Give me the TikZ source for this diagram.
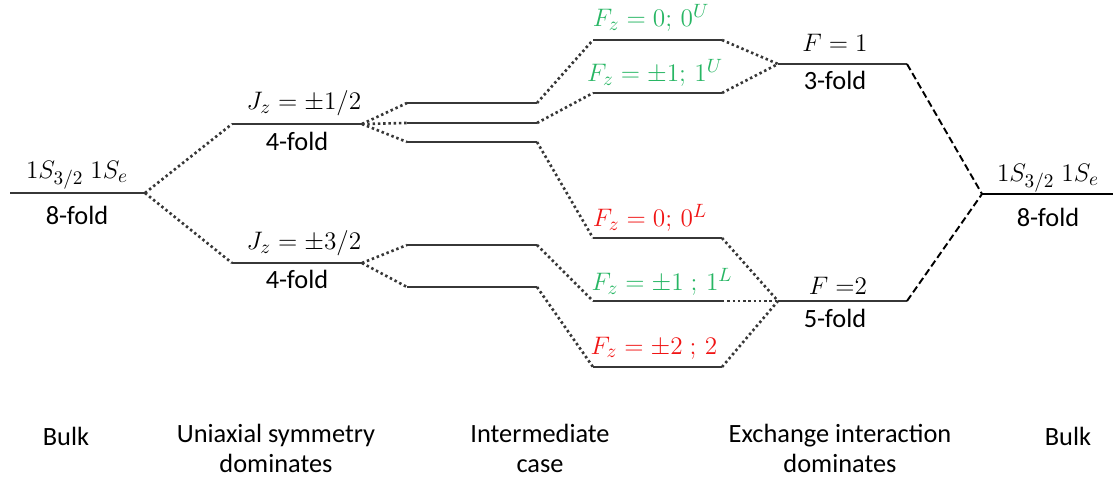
\documentclass[tikz,border=0pt]{standalone}
\usepackage{fontspec}
\setmainfont{Carlito}
\definecolor{lvlgreen}{RGB}{40,182,100}
\definecolor{lvlred}{RGB}{240,20,20}
\definecolor{lvlgray}{RGB}{55,55,55}
\tikzset{
  level/.style={draw=lvlgray, line width=1.6pt},
  link/.style={draw=lvlgray, line width=1.5pt, dash pattern=on 1.4pt off 1.6pt},
  dlink/.style={draw=black, line width=1.1pt, dash pattern=on 4pt off 2pt},
  lbl/.style={font=\fontsize{15}{17}\selectfont, inner sep=0pt},
}
\begin{document}
\begin{tikzpicture}[x=0.02cm, y=-0.02cm]
  \useasboundingbox (0,0) rectangle (1113,482);

  \coordinate (b0) at (10,193);
  \coordinate (b1) at (145,193);
  \coordinate (ja0) at (232,124);
  \coordinate (ja1) at (362,124);
  \coordinate (jb0) at (232,263);
  \coordinate (jb1) at (362,263);
  \coordinate (ia0) at (407,103);
  \coordinate (ia1) at (537,103);
  \coordinate (ib0) at (407,123);
  \coordinate (ib1) at (537,123);
  \coordinate (ic0) at (407,142);
  \coordinate (ic1) at (537,142);
  \coordinate (id0) at (407,245);
  \coordinate (id1) at (537,245);
  \coordinate (ie0) at (407,287);
  \coordinate (ie1) at (537,287);
  \coordinate (u00) at (593,40);
  \coordinate (u01) at (722,40);
  \coordinate (u10) at (593,93);
  \coordinate (u11) at (722,93);
  \coordinate (l00) at (593,238);
  \coordinate (l01) at (722,238);
  \coordinate (l10) at (593,301);
  \coordinate (l11) at (722,301);
  \coordinate (l20) at (593,367);
  \coordinate (l21) at (722,367);
  \coordinate (fa0) at (778,64);
  \coordinate (fa1) at (907,64);
  \coordinate (fb0) at (778,301);
  \coordinate (fb1) at (907,301);
  \coordinate (r0) at (982,194);
  \coordinate (r1) at (1113,194);

  \draw[level] (b0) -- (b1);
  \draw[level] (ja0) -- (ja1);
  \draw[level] (jb0) -- (jb1);
  \draw[level] (ia0) -- (ia1);
  \draw[level] (ib0) -- (ib1);
  \draw[level] (ic0) -- (ic1);
  \draw[level] (id0) -- (id1);
  \draw[level] (ie0) -- (ie1);
  \draw[level] (u00) -- (u01);
  \draw[level] (u10) -- (u11);
  \draw[level] (l00) -- (l01);
  \draw[level] (l10) -- (l11);
  \draw[level] (l20) -- (l21);
  \draw[level] (fa0) -- (fa1);
  \draw[level] (fb0) -- (fb1);
  \draw[level, draw=black] (r0) -- (r1);

  \draw[link] (b1) -- (ja0);
  \draw[link] (b1) -- (jb0);
  \draw[link] (ja1) -- (ia0);
  \draw[link] (ja1) -- (ib0);
  \draw[link] (ja1) -- (ic0);
  \draw[link] (jb1) -- (id0);
  \draw[link] (jb1) -- (ie0);
  \draw[link] (ia1) -- (u00);
  \draw[link] (ib1) -- (u10);
  \draw[link] (ic1) -- (l00);
  \draw[link] (id1) -- (l10);
  \draw[link] (ie1) -- (l20);
  \draw[link] (u01) -- (fa0);
  \draw[link] (u11) -- (fa0);
  \draw[link] (l01) -- (fb0);
  \draw[link] (l11) -- (fb0);
  \draw[link] (l21) -- (fb0);
  \draw[dlink] (fa1) -- (r0);
  \draw[dlink] (fb1) -- (r0);

  \node[lbl] (bt) at (77,175) {$1S_{3/2}\;1S_e$};
  \node[lbl] (bf) at (77,215) {8-fold};
  \node[lbl] (jat) at (304,103) {$J_z = \pm 1/2$};
  \node[lbl] (jaf) at (297,141) {4-fold};
  \node[lbl] (jbt) at (304,243) {$J_z = \pm 3/2$};
  \node[lbl] (jbf) at (297,279) {4-fold};
  \node[lbl, text=lvlgreen] (u0t) at (651,18) {$F_z = 0;\, 0^U$};
  \node[lbl, text=lvlgreen] (u1t) at (655,73) {$F_z = \pm 1;\, 1^U$};
  \node[lbl, text=lvlred] (l0t) at (650,218) {$F_z = 0;\, 0^L$};
  \node[lbl, text=lvlgreen] (l1t) at (662,282) {$F_z = \pm 1 \;;\, 1^L$};
  \node[lbl, text=lvlred] (l2t) at (654,348) {$F_z = \pm 2 \;;\, 2$};
  \node[lbl] (fat) at (835,43) {$F = 1$};
  \node[lbl] (faf) at (835,80) {3-fold};
  \node[lbl] (fbt) at (838,286) {$F\;{=}2$};
  \node[lbl] (fbf) at (835,318) {5-fold};
  \node[lbl] (rt) at (1048,178) {$1S_{3/2}\;1S_e$};
  \node[lbl] (rf) at (1048,217) {8-fold};

  \node[lbl, align=center, text depth=0pt] (s1) at (66,436) {Bulk};
  \node[lbl, align=center, anchor=north] (s2) at (276,424) {Uniaxial symmetry\\dominates};
  \node[lbl, align=center, anchor=north] (s3) at (540,424) {Intermediate\\case};
  \node[lbl, align=center, anchor=north] (s4) at (840,424) {Exchange interaction\\dominates};
  \node[lbl, align=center, text depth=0pt] (s5) at (1068,436) {Bulk};
\end{tikzpicture}
\end{document}
